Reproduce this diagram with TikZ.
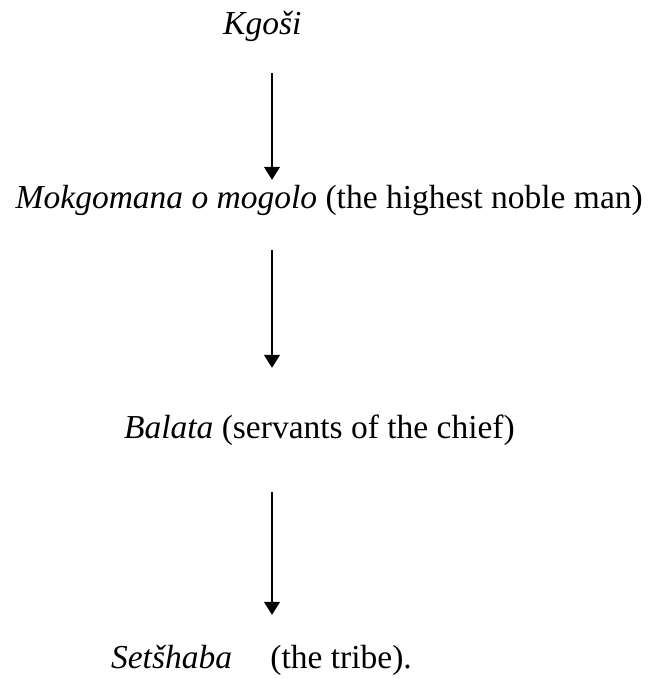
\documentclass[tikz,border=0pt]{standalone}
\usepackage{fontspec}
\setmainfont{Liberation Serif}
\usetikzlibrary{arrows.meta}
\begin{document}
\begin{tikzpicture}[x=1pt,y=-1pt,
  lbl/.style={inner sep=0pt,text height=23pt,text depth=7pt,font=\fontsize{33.5}{40}\selectfont},
  arr/.style={line width=1.3pt,-{Triangle[width=16pt,length=13pt]}}]
\useasboundingbox (0,0) rectangle (651,679);
\coordinate (ax) at (272,0);
\node[lbl,anchor=base west] (k) at (223,35) {\textit{Kgoši}};
\node[lbl,anchor=base east] (m) at (643,208) {\textit{Mokgomana o mogolo} (the highest noble man)};
\node[lbl,anchor=base east] (b) at (515,438) {\textit{Balata} (servants of the chief)};
\node[lbl,anchor=base east] (s) at (412,668) {\textit{Setšhaba}\hspace{30pt} (the tribe).};
\draw[arr,shorten <=31pt,shorten >=5pt] (k.south -| ax) -- (m.north -| ax);
\draw[arr,shorten <=35pt,shorten >=47pt] (m.south -| ax) -- (b.north -| ax);
\draw[arr,shorten <=47pt,shorten >=30pt] (b.south -| ax) -- (s.north -| ax);
\end{tikzpicture}
\end{document}
